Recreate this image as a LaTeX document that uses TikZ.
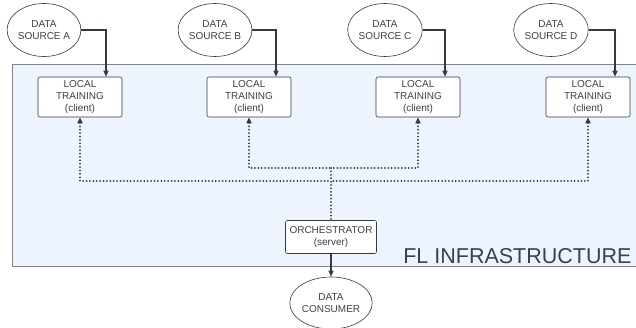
\documentclass[tikz,border=0pt]{standalone}
\usepackage{fontspec}
\setmainfont{Liberation Sans}
\usetikzlibrary{shapes.geometric,arrows.meta}
\definecolor{txt}{HTML}{3A414A}
\definecolor{ln}{HTML}{333A44}
\definecolor{infra}{HTML}{EDF4FE}
\definecolor{bord}{HTML}{7E848C}
\begin{document}
\begin{tikzpicture}[x=1pt,y=-1pt,
  lab/.style={font=\fontsize{10}{12}\selectfont, text=txt, align=center},
  src/.style={lab, ellipse, draw=ln, line width=0.6pt, fill=white, inner sep=0pt, minimum width=65pt, minimum height=53pt},
  client/.style={lab, draw=ln, line width=0.6pt, fill=white, rounded corners=2pt, inner sep=0pt, minimum width=84pt, minimum height=40pt},
  solidarrow/.style={draw=ln, line width=1.2pt, -{Triangle[length=6pt,width=5pt]}},
  dotline/.style={draw=ln, line width=2pt, line cap=round, dash pattern=on 0pt off 3.4pt},
  dottip/.style={dotline, {Triangle[length=6pt,width=5pt]}-}
]
\useasboundingbox (0,0) rectangle (636,328);
\draw[bord, fill=infra, line width=0.8pt] (12,64) rectangle (660,266);
\node[anchor=base east, font=\fontsize{21.5}{26}\selectfont, text=txt] (title) at (635,264) {FL INFRASTRUCTURE};

\node[src] (sa) at (44,30) {DATA\\SOURCE A};
\node[src] (sb) at (215,30) {DATA\\SOURCE B};
\node[src] (sc) at (385,30) {DATA\\SOURCE C};
\node[src] (sd) at (551,30) {DATA\\SOURCE D};

\node[client] (la) at (80,97) {LOCAL\\TRAINING\\(client)};
\node[client] (lb) at (249,97) {LOCAL\\TRAINING\\(client)};
\node[client] (lc) at (418,97) {LOCAL\\TRAINING\\(client)};
\node[client] (ld) at (588,97) {LOCAL\\TRAINING\\(client)};

\node[lab, draw=ln, line width=0.6pt, fill=white, rounded corners=2pt, inner sep=0pt, minimum width=91pt, minimum height=33pt] (orch) at (331,237) {ORCHESTRATOR\\(server)};
\node[src, minimum width=66pt, minimum height=52pt] (cons) at (331,303) {DATA\\CONSUMER};

\coordinate (j1) at (331,181);
\coordinate (j2) at (331,168);

\draw[solidarrow] (sa.east) -| ([xshift=26pt]la.north);
\draw[solidarrow] (sb.east) -| ([xshift=27pt]lb.north);
\draw[solidarrow] (sc.east) -| ([xshift=27pt]lc.north);
\draw[solidarrow] (sd.east) -| ([xshift=27pt]ld.north);

\draw[dottip] (la.south) |- (j1);
\draw[dottip] (ld.south) |- (j1);
\draw[dottip] (lb.south) |- (j2);
\draw[dottip] (lc.south) |- (j2);
\draw[dotline] (j2) -- (orch.north);

\draw[solidarrow] (orch.south) -- (cons.north);
\end{tikzpicture}
\end{document}
